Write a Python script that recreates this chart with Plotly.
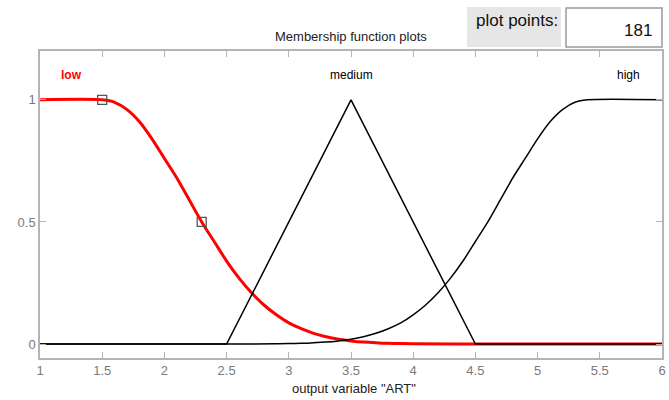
import plotly.graph_objects as go

# ---- data ----
low_x = [1.0, 1.5, 1.6, 1.7, 1.8, 1.9, 2.0, 2.1, 2.2, 2.3, 2.4, 2.5, 2.6, 2.7, 2.8, 2.9, 3.0, 3.1, 3.2, 3.3, 3.4, 3.5, 3.6, 3.7, 3.8, 3.9, 4.0, 4.5, 6.0]
low_y = [1.0, 1.0, 0.99, 0.96, 0.91, 0.84, 0.76, 0.68, 0.59, 0.50, 0.42, 0.34, 0.27, 0.21, 0.16, 0.12, 0.087, 0.063, 0.044, 0.030, 0.020, 0.013, 0.008, 0.005, 0.003, 0.002, 0.001, 0.0, 0.0]

medium_x = [1.0, 2.5, 3.5, 4.5, 6.0]
medium_y = [0.0, 0.0, 1.0, 0.0, 0.0]

high_x = [1.0, 2.5, 2.9, 3.0, 3.1, 3.2, 3.3, 3.4, 3.5, 3.6, 3.7, 3.8, 3.9, 4.0, 4.1, 4.2, 4.3, 4.4, 4.5, 4.6, 4.7, 4.8, 4.9, 5.0, 5.1, 5.2, 5.3, 5.4, 6.0]
high_y = [0.0, 0.0, 0.001, 0.002, 0.003, 0.005, 0.008, 0.013, 0.020, 0.030, 0.044, 0.063, 0.087, 0.12, 0.16, 0.21, 0.27, 0.34, 0.42, 0.50, 0.59, 0.68, 0.76, 0.84, 0.91, 0.96, 0.99, 1.0, 1.0]

marker_x = [1.5, 2.3]
marker_y = [1.0, 0.5]

mf_names = ["low", "medium", "high"]
label_x = [1.25, 3.5, 5.73]
label_y = [1.1, 1.1, 1.1]

x_ticks = [1, 1.5, 2, 2.5, 3, 3.5, 4, 4.5, 5, 5.5, 6]
x_tick_text = ["1", "1.5", "2", "2.5", "3", "3.5", "4", "4.5", "5", "5.5", "6"]
y_ticks = [0, 0.5, 1]
y_tick_text = ["0", "0.5", "1"]

plot_points = "181"

FONT = "Liberation Sans Narrow, Liberation Sans, Arial, sans-serif"

W, H = 669, 400
L, R, T, B = 40, 7, 51, 42
pw, ph = W - L - R, H - T - B


def px(x):
    return (x - L) / pw


def py(y):
    return (H - B - y) / ph


fig = go.Figure()
fig.add_trace(go.Scatter(x=low_x, y=low_y, mode="lines",
                         line=dict(color="#ff0000", width=3, shape="spline", smoothing=0.8),
                         hoverinfo="skip", showlegend=False))
fig.add_trace(go.Scatter(x=medium_x, y=medium_y, mode="lines", line=dict(color="#000000", width=1.5),
                         hoverinfo="skip", showlegend=False))
fig.add_trace(go.Scatter(x=high_x, y=high_y, mode="lines",
                         line=dict(color="#000000", width=1.5, shape="spline", smoothing=0.8),
                         hoverinfo="skip", showlegend=False))
fig.add_trace(go.Scatter(x=marker_x, y=marker_y, mode="markers",
                         marker=dict(symbol="square-open", size=9, color="#555555", line=dict(width=1.3)),
                         hoverinfo="skip", showlegend=False))

colors = ["#ff0000", "#000000", "#000000"]
for name, lx, ly, c in zip(mf_names, label_x, label_y, colors):
    fig.add_annotation(x=lx, y=ly, text=("<b>%s</b>" % name) if name == "low" else name, showarrow=False,
                       font=dict(family=FONT, size=12, color=c), xanchor="center", yanchor="middle")

fig.add_annotation(x=px(351), y=py(37), xref="paper", yref="paper", text="Membership function plots",
                   showarrow=False, font=dict(family=FONT, size=13, color="#222222"),
                   xanchor="center", yanchor="middle")
fig.add_annotation(x=px(354), y=py(388), xref="paper", yref="paper", text='output variable "ART"',
                   showarrow=False, font=dict(family=FONT, size=13, color="#222222"),
                   xanchor="center", yanchor="middle")

fig.add_shape(type="rect", xref="paper", yref="paper", x0=px(467), x1=px(561), y0=py(47), y1=py(7),
              fillcolor="#e6e6e6", line=dict(width=0), layer="below")
fig.add_annotation(x=px(517), y=py(21), xref="paper", yref="paper", text="plot points:", showarrow=False,
                   font=dict(family=FONT, size=17, color="#111111"), xanchor="center", yanchor="middle")
fig.add_shape(type="rect", xref="paper", yref="paper", x0=px(566), x1=px(662), y0=py(47), y1=py(8),
              fillcolor="#ffffff", line=dict(width=1.5, color="#9a9a9a"))
fig.add_annotation(x=px(654), y=py(31), xref="paper", yref="paper", text=plot_points, showarrow=False,
                   font=dict(family=FONT, size=17, color="#111111"), xanchor="right", yanchor="middle")

axis_color = "#b4b4b4"
fig.update_xaxes(range=[1, 6], tickvals=x_ticks, ticktext=x_tick_text, showgrid=False, zeroline=False,
                 showline=True, linecolor=axis_color, linewidth=1.5, mirror="ticks", ticks="inside", ticklen=6,
                 tickcolor=axis_color, tickfont=dict(family=FONT, size=13, color="#7a7a7a"), automargin=False)
fig.update_yaxes(range=[-0.057, 1.2], tickvals=y_ticks, ticktext=y_tick_text, showgrid=False, zeroline=False,
                 showline=True, linecolor=axis_color, linewidth=1.5, mirror="ticks", ticks="inside", ticklen=6,
                 tickcolor=axis_color, tickfont=dict(family=FONT, size=13, color="#7a7a7a"), automargin=False)

fig.update_layout(width=W, height=H, margin=dict(l=L, r=R, t=T, b=B, autoexpand=False),
                  plot_bgcolor="white", paper_bgcolor="white", showlegend=False)

fig.write_html("out.html", config={"displayModeBar": False},
               post_script="document.body.style.margin='0';document.body.style.overflow='hidden';")
